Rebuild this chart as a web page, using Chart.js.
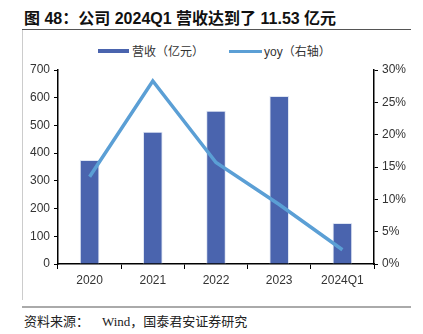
<!DOCTYPE html>
<html>
<head>
<meta charset="utf-8">
<script src="https://cdn.jsdelivr.net/npm/chart.js@4"></script>
<style>
body { margin: 0; width: 423px; height: 334px; background: #fff; position: relative; overflow: hidden; font-family: "Liberation Sans", "Noto Sans CJK SC", sans-serif; }
#titulo { position: absolute; left: 24px; top: 5px; font: bold 16px "Liberation Sans", "Noto Sans CJK SC", sans-serif; color: #111; white-space: nowrap; }
#lineaTop { position: absolute; left: 22px; top: 29px; width: 389px; height: 1px; background: #555; }
#lineaIzq { position: absolute; left: 22px; top: 30px; width: 1px; height: 270px; background: #ccc; }
#lineaBottom { position: absolute; left: 22px; top: 306px; width: 389px; height: 2px; background: #aaa; }
#fuente { position: absolute; left: 24px; top: 311px; font: 13px "Liberation Serif", "Noto Sans CJK SC", serif; color: #222; white-space: nowrap; }
#leyenda { position: absolute; top: 42px; left: 0; font-size: 12px; color: #333; white-space: nowrap; }
.item { position: absolute; top: 0; }
.caja { position: absolute; top: 7px; height: 4px; }
#contenedor { position: absolute; left: 22px; top: 30px; width: 389px; height: 270px; }
</style>
</head>
<body>
<div id="titulo">图 48：公司 2024Q1 营收达到了 11.53 亿元</div>
<div id="lineaTop"></div>
<div id="lineaIzq"></div>
<div id="leyenda">
    <div class="caja" style="left:98px;width:31px;background:#4a64ae;"></div>
    <div class="item" style="left:132px;">营收（亿元）</div>
    <div class="caja" style="left:229px;width:33px;height:3px;top:8px;background:#5b9fd5;"></div>
    <div class="item" style="left:264px;">yoy（右轴）</div>
</div>
<div id="contenedor"><canvas id="miGrafico"></canvas></div>
<div id="lineaBottom"></div>
<div id="fuente">资料来源：&nbsp;&nbsp;&nbsp;&nbsp;Wind，国泰君安证券研究</div>

<script>
// Datos
const categorias = ['2020', '2021', '2022', '2023', '2024Q1'];
const ingresos = [375, 477, 553, 606, 148];
const yoy = [13.5, 28.3, 15.7, 9.2, 2.2];
const ticksIzq = [0, 100, 200, 300, 400, 500, 600, 700];
const ticksDer = [0, 5, 10, 15, 20, 25, 30];

const ctx = document.getElementById('miGrafico').getContext('2d');
const estiloTicks = { color: '#333', font: { family: 'Liberation Sans', size: 12 } };

const miGrafico = new Chart(ctx, {
    type: 'bar',
    data: {
        labels: categorias,
        datasets: [{
            type: 'line',
            label: 'yoy（右轴）',
            data: yoy,
            yAxisID: 'y1',
            borderColor: '#5b9fd5',
            backgroundColor: '#5b9fd5',
            borderWidth: 3.5,
            pointRadius: 0,
            tension: 0
        }, {
            label: '营收（亿元）',
            data: ingresos,
            yAxisID: 'y',
            backgroundColor: '#4a64ae',
            borderColor: '#dfe6f3',
            borderWidth: 1,
            categoryPercentage: 1,
            barPercentage: 0.31
        }]
    },
    options: {
        responsive: true,
        maintainAspectRatio: false,
        animation: false,
        layout: { padding: { top: 40, left: 0, right: 0, bottom: 0 } },
        plugins: {
            legend: { display: false },
            tooltip: { enabled: false }
        },
        scales: {
            x: {
                ticks: { ...estiloTicks, padding: 4 },
                grid: { display: true, drawOnChartArea: false, drawTicks: true, tickLength: 5, color: '#000', offset: true },
                border: { display: true, color: '#000', width: 1.5 },
                afterFit: scale => { scale.height = 36; }
            },
            y: {
                position: 'left',
                min: 0,
                max: 700,
                afterBuildTicks: scale => { scale.ticks = ticksIzq.map(v => ({ value: v })); },
                ticks: { ...estiloTicks, padding: 4 },
                grid: { display: true, drawOnChartArea: false, drawTicks: true, tickLength: 4, color: '#000' },
                border: { display: true, color: '#000', width: 1.5 },
                afterFit: scale => { scale.width = 36; }
            },
            y1: {
                position: 'right',
                min: 0,
                max: 30,
                afterBuildTicks: scale => { scale.ticks = ticksDer.map(v => ({ value: v })); },
                ticks: { ...estiloTicks, padding: 4, callback: v => v + '%' },
                grid: { display: true, drawOnChartArea: false, drawTicks: true, tickLength: 4, color: '#000' },
                border: { display: true, color: '#000', width: 1.5 },
                afterFit: scale => { scale.width = 37; }
            }
        }
    }
});
</script>
</body>
</html>
